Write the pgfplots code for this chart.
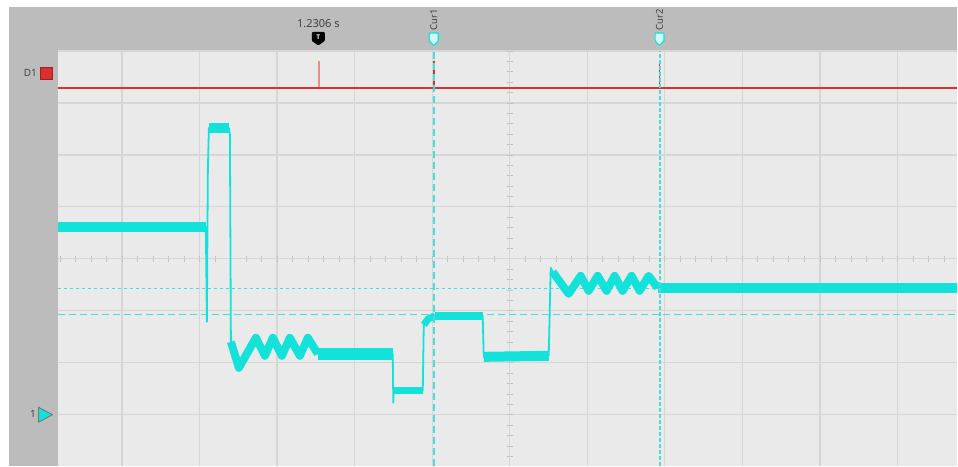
\documentclass[border=0pt]{standalone}
\usepackage{pgfplots}
\pgfplotsset{compat=1.18}
\usepackage{fontspec}
\setmainfont{Open Sans}
\definecolor{scopebg}{RGB}{234,234,234}
\definecolor{panel}{RGB}{188,188,188}
\definecolor{gridc}{RGB}{214,214,214}
\definecolor{tickc}{RGB}{192,192,192}
\definecolor{trace}{RGB}{18,226,218}
\definecolor{curc}{RGB}{70,222,218}
\definecolor{dred}{RGB}{218,48,48}
\definecolor{lred}{RGB}{232,140,140}
\definecolor{txt}{RGB}{55,55,55}
\begin{document}
\begin{tikzpicture}[x=1pt,y=1pt]
\fill[white] (0,0) rectangle (958,466);
\fill[panel] (9,0) rectangle (958,459);
\begin{axis}[
  at={(58pt,0pt)}, anchor=south west,
  scale only axis, width=900pt, height=415pt,
  xmin=-5.825, xmax=5.773, ymin=-3.98, ymax=4.0,
  axis background/.style={fill=scopebg},
  axis lines=middle,
  axis line style={-,draw=gridc,line width=1.2pt},
  xtick={-5,...,5}, ytick={-3,...,4},
  minor xtick={-5.8,-5.6,...,5.7},
  minor ytick={-3.8,-3.6,...,3.9},
  xticklabels={}, yticklabels={},
  tick align=center,
  major tick length=0pt, minor tick length=6pt,
  minor tick style={draw=tickc,line width=0.8pt},
  grid=major,
  major grid style={draw=gridc,line width=1.2pt},
]
% cursor reference lines
\addplot[curc, line width=1.2pt, dash pattern=on 3pt off 3pt] coordinates {(-5.825,-0.577) (5.773,-0.577)};
\addplot[curc, line width=1.2pt, dash pattern=on 7pt off 4pt] coordinates {(-5.825,-1.077) (5.773,-1.077)};
% digital channel D1
\addplot[lred, line width=1.5pt] coordinates {(-2.461,3.288) (-2.461,3.81)};
\addplot[dred, line width=1.5pt] coordinates {(-5.825,3.288) (-0.979,3.288) (-0.979,3.81) (-0.979,3.288) (1.933,3.288) (1.933,3.81) (1.933,3.288) (5.773,3.288)};
% analog channel 1, thin trace
\addplot[trace, line width=1.8pt, line join=round] coordinates {
(-5.825,0.615) (-3.918,0.615) (-3.905,-1.212) (-3.892,1.712) (-3.879,2.519)
(-3.621,2.519) (-3.608,2.40) (-3.595,-1.596) (-3.492,-2.096)
(-3.273,-1.519) (-3.157,-1.865) (-3.054,-1.519) (-2.938,-1.865) (-2.835,-1.519)
(-2.706,-1.865) (-2.603,-1.519) (-2.474,-1.827) (-1.508,-1.827)
(-1.501,-2.769) (-1.495,-2.538) (-1.121,-2.538) (-1.108,-1.269) (-1.050,-1.154)
(-0.966,-1.096) (-0.348,-1.096) (-0.335,-1.885) (0.503,-1.865) (0.529,-0.173)
(0.554,-0.250) (0.760,-0.673) (0.915,-0.327) (1.018,-0.615) (1.134,-0.327)
(1.250,-0.615) (1.353,-0.327) (1.456,-0.615) (1.572,-0.327) (1.675,-0.615)
(1.791,-0.327) (1.907,-0.558) (5.773,-0.558)};
% noise bands
\addplot[trace, line width=10pt, line cap=butt] coordinates {(-5.825,0.615) (-3.918,0.615)};
\addplot[trace, line width=10pt, line cap=butt] coordinates {(-3.879,2.519) (-3.621,2.519)};
\addplot[trace, line width=8pt, line join=round] coordinates {
(-3.595,-1.596) (-3.492,-2.096)
(-3.273,-1.519) (-3.157,-1.865) (-3.054,-1.519) (-2.938,-1.865) (-2.835,-1.519)
(-2.706,-1.865) (-2.603,-1.519) (-2.474,-1.827)};
\addplot[trace, line width=12pt, line cap=butt] coordinates {(-2.474,-1.827) (-1.508,-1.827)};
\addplot[trace, line width=7pt, line cap=butt] coordinates {(-1.495,-2.538) (-1.121,-2.538)};
\addplot[trace, line width=7pt, line join=round] coordinates {(-1.108,-1.269) (-1.050,-1.154) (-0.966,-1.096)};
\addplot[trace, line width=8pt, line cap=butt] coordinates {(-0.966,-1.096) (-0.348,-1.096)};
\addplot[trace, line width=10pt, line cap=butt] coordinates {(-0.335,-1.885) (0.503,-1.865)};
\addplot[trace, line width=8pt, line join=round] coordinates {
(0.554,-0.250) (0.760,-0.673) (0.915,-0.327) (1.018,-0.615) (1.134,-0.327)
(1.250,-0.615) (1.353,-0.327) (1.456,-0.615) (1.572,-0.327) (1.675,-0.615)
(1.791,-0.327) (1.907,-0.558)};
\addplot[trace, line width=10pt, line cap=butt] coordinates {(1.907,-0.558) (5.773,-0.558)};
% cursors
\addplot[curc, line width=1.6pt, dash pattern=on 7pt off 4pt] coordinates {(-0.979,-3.98) (-0.979,4.0)};
\addplot[curc, line width=2pt, dash pattern=on 3.5pt off 2.5pt] coordinates {(1.933,-3.98) (1.933,4.0)};
\end{axis}
% header and side labels
\node[txt, font=\fontsize{11}{12}\selectfont] at (318.5,442) {1.2306 s};
\fill[black, rounded corners=1pt] (312,434) -- (325,434) -- (325,425) -- (318.5,420.5) -- (312,425) -- cycle;
\node[white, font=\fontsize{6.5}{7}\selectfont\bfseries] at (318.5,428.3) {T};
\foreach \cx/\lab in {434/Cur1, 660/Cur2}{
  \filldraw[draw=trace, fill=white!80!trace, line width=1.2pt, rounded corners=0.8pt]
    (\cx-4.5,433) -- (\cx+4.5,433) -- (\cx+4.5,425) -- (\cx,420.5) -- (\cx-4.5,425) -- cycle;
  \node[txt, rotate=90, font=\fontsize{9.5}{10}\selectfont] at (\cx,446) {\lab};
}
\node[txt, anchor=east, font=\fontsize{10}{10}\selectfont, inner sep=0pt] at (37,393.5) {D1};
\filldraw[fill=dred, draw=dred!70!black, line width=0.6pt] (40,386.5) rectangle (52,399);
\node[txt, anchor=east, font=\fontsize{10}{10}\selectfont, inner sep=0pt] at (36,52) {1};
\filldraw[fill=trace, draw=black!55, line width=0.8pt, line join=round] (38.5,58.5) -- (52.5,51) -- (38.5,43.5) -- cycle;
\end{tikzpicture}
\end{document}
